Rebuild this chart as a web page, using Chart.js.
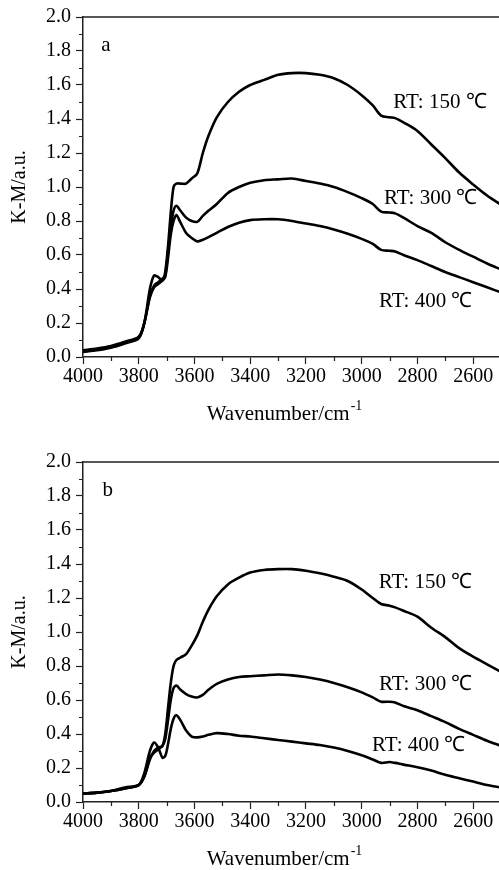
<!DOCTYPE html>
<html>
<head>
<meta charset="utf-8">
<script src="https://cdn.jsdelivr.net/npm/chart.js@4/dist/chart.umd.min.js"></script>
<style>
  html, body { margin: 0; padding: 0; background: #fff; width: 499px; height: 870px; overflow: hidden; }
  canvas { position: absolute; left: 0; }
  #panelA { top: 0; }
  #panelB { top: 435px; }
</style>
</head>
<body>
<canvas id="panelA" width="501" height="435"></canvas>
<canvas id="panelB" width="501" height="435"></canvas>
<script>
// Wavenumber grid (cm^-1) shared by every spectrum
const wavenumbers = [4000, 3950, 3900, 3850, 3800, 3780, 3760, 3745, 3730, 3715, 3705, 3695, 3685, 3675, 3665, 3650, 3630, 3610, 3590, 3570, 3550, 3520, 3480, 3440, 3400, 3350, 3300, 3250, 3200, 3150, 3100, 3050, 3000, 2960, 2930, 2900, 2880, 2850, 2800, 2750, 2700, 2650, 2600, 2550, 2500];

// Panel a: K-M intensity
const aRT150 = [0.04, 0.05, 0.065, 0.09, 0.12, 0.20, 0.40, 0.48, 0.47, 0.45, 0.50, 0.65, 0.85, 1.00, 1.02, 1.02, 1.02, 1.05, 1.08, 1.20, 1.30, 1.41, 1.50, 1.56, 1.60, 1.63, 1.66, 1.67, 1.67, 1.66, 1.64, 1.60, 1.54, 1.48, 1.42, 1.41, 1.405, 1.38, 1.33, 1.25, 1.17, 1.085, 1.015, 0.95, 0.895];
const aRT300 = [0.035, 0.045, 0.06, 0.085, 0.115, 0.20, 0.36, 0.42, 0.44, 0.46, 0.48, 0.62, 0.76, 0.86, 0.89, 0.86, 0.82, 0.80, 0.795, 0.83, 0.86, 0.90, 0.965, 1.00, 1.025, 1.04, 1.045, 1.05, 1.035, 1.02, 1.00, 0.97, 0.935, 0.90, 0.855, 0.85, 0.845, 0.82, 0.77, 0.73, 0.675, 0.63, 0.59, 0.55, 0.515];
const aRT400 = [0.03, 0.04, 0.055, 0.08, 0.11, 0.20, 0.35, 0.41, 0.43, 0.45, 0.47, 0.58, 0.72, 0.80, 0.835, 0.79, 0.73, 0.70, 0.68, 0.69, 0.705, 0.73, 0.765, 0.79, 0.805, 0.81, 0.81, 0.80, 0.785, 0.77, 0.75, 0.725, 0.695, 0.665, 0.63, 0.625, 0.62, 0.60, 0.57, 0.535, 0.50, 0.47, 0.44, 0.41, 0.38];

// Panel b: K-M intensity
const bRT150 = [0.05, 0.055, 0.065, 0.08, 0.10, 0.15, 0.25, 0.30, 0.32, 0.33, 0.40, 0.55, 0.70, 0.80, 0.835, 0.85, 0.87, 0.92, 0.98, 1.06, 1.13, 1.21, 1.28, 1.32, 1.35, 1.365, 1.37, 1.37, 1.36, 1.345, 1.325, 1.30, 1.25, 1.20, 1.165, 1.155, 1.145, 1.125, 1.09, 1.025, 0.97, 0.905, 0.855, 0.81, 0.765];
const bRT300 = [0.05, 0.055, 0.065, 0.085, 0.10, 0.15, 0.26, 0.29, 0.31, 0.33, 0.37, 0.48, 0.60, 0.67, 0.685, 0.66, 0.635, 0.62, 0.615, 0.63, 0.66, 0.695, 0.72, 0.735, 0.74, 0.745, 0.75, 0.745, 0.735, 0.72, 0.70, 0.675, 0.645, 0.615, 0.59, 0.59, 0.585, 0.565, 0.54, 0.505, 0.47, 0.43, 0.395, 0.36, 0.33];
const bRT400 = [0.05, 0.055, 0.065, 0.08, 0.10, 0.17, 0.30, 0.35, 0.32, 0.26, 0.27, 0.34, 0.43, 0.49, 0.51, 0.48, 0.42, 0.385, 0.38, 0.385, 0.395, 0.405, 0.40, 0.39, 0.385, 0.375, 0.365, 0.355, 0.345, 0.335, 0.32, 0.30, 0.275, 0.25, 0.23, 0.235, 0.23, 0.22, 0.205, 0.185, 0.16, 0.14, 0.12, 0.10, 0.085];

const seriesNames = ['RT: 150 ℃', 'RT: 300 ℃', 'RT: 400 ℃'];

// Axis ticks
const xTickValues = [4000, 3800, 3600, 3400, 3200, 3000, 2800, 2600];
const xMinorValues = [3900, 3700, 3500, 3300, 3100, 2900, 2700, 2500];
const yTickValues = [0, 0.2, 0.4, 0.6, 0.8, 1.0, 1.2, 1.4, 1.6, 1.8, 2.0];
const yMinorValues = [0.1, 0.3, 0.5, 0.7, 0.9, 1.1, 1.3, 1.5, 1.7, 1.9];

const SERIF = '"Liberation Serif", "Times New Roman", serif';

// Decorations: frame, minor ticks, axis titles and curve labels
const decorPlugin = {
  id: 'decor',
  afterDraw(chart, args, opts) {
    const ctx = chart.ctx;
    const { left, right, top, bottom } = chart.chartArea;
    const xs = chart.scales.x, ys = chart.scales.y;
    ctx.save();
    ctx.strokeStyle = '#222';
    ctx.lineWidth = 1.5;
    ctx.beginPath();
    ctx.moveTo(left, top); ctx.lineTo(right, top);
    ctx.moveTo(right, top); ctx.lineTo(right, bottom);
    ctx.stroke();

    ctx.lineWidth = 1.2;
    ctx.beginPath();
    yMinorValues.forEach(v => {
      const y = Math.round(ys.getPixelForValue(v)) + 0.5;
      ctx.moveTo(left - 4, y); ctx.lineTo(left, y);
    });
    xMinorValues.forEach(v => {
      const x = Math.round(xs.getPixelForValue(v)) + 0.5;
      ctx.moveTo(x, bottom); ctx.lineTo(x, bottom + 4);
    });
    ctx.stroke();

    ctx.fillStyle = '#000';
    // y-axis title
    ctx.save();
    ctx.translate(20, (top + bottom) / 2);
    ctx.rotate(-Math.PI / 2);
    ctx.font = '20px ' + SERIF;
    ctx.textAlign = 'center';
    ctx.textBaseline = 'middle';
    ctx.fillText('K-M/a.u.', 0, 0);
    ctx.restore();

    // x-axis title with superscript
    ctx.font = '21px ' + SERIF;
    const main = 'Wavenumber/cm';
    const wMain = ctx.measureText(main).width;
    ctx.font = '14px ' + SERIF;
    const sup = '-1';
    const wSup = ctx.measureText(sup).width;
    const x0 = 284 - (wMain + wSup) / 2;
    const base = bottom + 63;
    ctx.textAlign = 'left';
    ctx.textBaseline = 'alphabetic';
    ctx.font = '21px ' + SERIF;
    ctx.fillText(main, x0, base);
    ctx.font = '14px ' + SERIF;
    ctx.fillText(sup, x0 + wMain + 1, base - 10);

    // panel letter and curve labels, placed in data coordinates
    ctx.textAlign = 'center';
    ctx.textBaseline = 'middle';
    ctx.font = '21px ' + SERIF;
    ctx.fillText(opts.letter.text, xs.getPixelForValue(opts.letter.at[0]), ys.getPixelForValue(opts.letter.at[1]));
    opts.labels.forEach((lab, i) => {
      ctx.fillText(seriesNames[i], xs.getPixelForValue(lab[0]), ys.getPixelForValue(lab[1]));
    });
    ctx.restore();
  }
};

function makePanel(id, series, letter, labelSpots, padTop, xAxisHeight) {
  const datasets = series.map((vals, i) => ({
    label: seriesNames[i],
    data: wavenumbers.map((w, k) => ({ x: w, y: vals[k] })),
    borderColor: '#000',
    borderWidth: 2.6,
    pointRadius: 0,
    tension: 0.3,
    fill: false
  }));
  return new Chart(document.getElementById(id), {
    type: 'line',
    data: { datasets },
    options: {
      responsive: false,
      animation: false,
      layout: { padding: { top: padTop, left: 0, right: 0, bottom: 0 } },
      plugins: {
        legend: { display: false },
        tooltip: { enabled: false },
        decor: { letter, labels: labelSpots }
      },
      scales: {
        x: {
          type: 'linear',
          reverse: true,
          min: 2500,
          max: 4000,
          afterBuildTicks: s => { s.ticks = xTickValues.map(v => ({ value: v })); },
          afterFit: s => { s.height = xAxisHeight; },
          ticks: {
            color: '#000',
            font: { family: SERIF, size: 20 },
            padding: 1,
            maxRotation: 0,
            autoSkip: false,
            callback: v => String(v)
          },
          grid: { display: true, drawOnChartArea: false, drawTicks: true, tickLength: 7, tickColor: '#222', tickWidth: 1.2 },
          border: { display: true, color: '#222', width: 1.5 }
        },
        y: {
          type: 'linear',
          min: 0,
          max: 2,
          afterBuildTicks: s => { s.ticks = yTickValues.map(v => ({ value: v })); },
          afterFit: s => { s.width = 83; },
          ticks: {
            color: '#000',
            font: { family: SERIF, size: 20 },
            padding: 5,
            autoSkip: false,
            callback: v => Number(v).toFixed(1)
          },
          grid: { display: true, drawOnChartArea: false, drawTicks: true, tickLength: 7, tickColor: '#222', tickWidth: 1.2 },
          border: { display: true, color: '#222', width: 1.5 }
        }
      }
    },
    plugins: [decorPlugin]
  });
}

makePanel('panelA', [aRT150, aRT300, aRT400],
  { text: 'a', at: [3918, 1.83] },
  [[2719, 1.50], [2752, 0.93], [2770, 0.325]],
  17, 78);

makePanel('panelB', [bRT150, bRT300, bRT400],
  { text: 'b', at: [3911, 1.83] },
  [[2771, 1.29], [2770, 0.69], [2795, 0.335]],
  27, 68);
</script>
</body>
</html>
